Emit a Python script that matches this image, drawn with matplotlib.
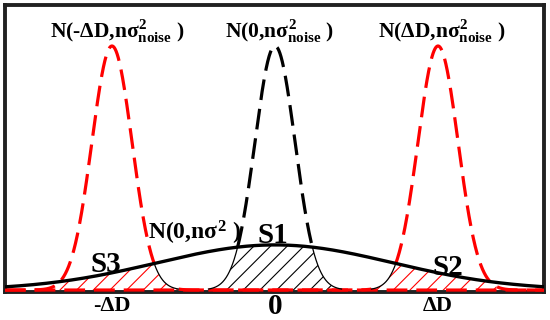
import numpy as np
import matplotlib
matplotlib.use("Agg")
import matplotlib.pyplot as plt
import matplotlib.transforms as mtransforms

# ---- data (in units of ΔD) ----
noise_centers = [-1.0, 0.0, 1.0]          # means of N(-ΔD,·), N(0,·), N(ΔD,·)
noise_colors = ["#ff0000", "#000000", "#ff0000"]
noise_sigma = 0.123
noise_peak = 1.0
wide_sigma = 0.72
wide_peak = 0.185

top_labels = [r"N(-ΔD,n$\sigma^{2}_{noise}$ )", r"N(0,n$\sigma^{2}_{noise}$ )",
              r"N(ΔD,n$\sigma^{2}_{noise}$ )"]
top_label_x = [-0.97, 0.03, 1.02]
wide_label = r"N(0,n$\sigma^{2}$ )"
area_labels = ["S3", "S1", "S2"]
area_label_x = [-1.04, -0.01, 1.06]
area_label_y = [0.074, 0.193, 0.061]
tick_pos = [-1.0, 0.0, 1.0]
tick_labels = ["-ΔD", "0", "ΔD"]
tick_sizes = [16, 21, 16]

plt.rcParams["font.family"] = "Liberation Serif"
plt.rcParams["font.weight"] = "bold"
plt.rcParams["mathtext.fontset"] = "custom"
plt.rcParams["mathtext.rm"] = "Liberation Serif:bold"
plt.rcParams["mathtext.it"] = "Liberation Serif:bold"
plt.rcParams["mathtext.bf"] = "Liberation Serif:bold"
plt.rcParams["hatch.linewidth"] = 0.8

fig = plt.figure(figsize=(5.5, 3.2), dpi=100)
ax = fig.add_axes([5 / 550, 1 - 292 / 320, 539 / 550, 287 / 320])

x = np.linspace(-1.66, 1.66, 3000)
w = wide_peak * np.exp(-x ** 2 / (2 * wide_sigma ** 2))

for c, col in zip(noise_centers, noise_colors):
    n = noise_peak * np.exp(-(x - c) ** 2 / (2 * noise_sigma ** 2))
    above = n >= w
    if c < 0:
        inner = x > c
    elif c > 0:
        inner = x < c
    else:
        inner = np.ones_like(x, dtype=bool)
    thin = (~above) & inner & (n > 0.004)
    if col == "#000000":
        dashed = above
    else:
        dashed = ~thin
    # hatched overlap area
    ax.fill_between(x, 0, np.minimum(w, n), facecolor="white", edgecolor=col,
                    hatch="//", linewidth=0, zorder=2)
    yd = np.where(dashed, n, np.nan)
    ln, = ax.plot(x, yd, color=col, lw=2.3, zorder=3, solid_capstyle="butt")
    ln.set_dashes((6.5, 2.8))
    yt = np.where(thin, n, np.nan)
    ax.plot(x, yt, color="black", lw=0.9, zorder=4)

ax.plot(x, w, color="black", lw=2.4, zorder=5)

ax.set_xlim(-1.656, 1.65)
ax.set_ylim(-0.008, 1.168)
ax.set_xticks([])
ax.set_yticks([])
for s in ax.spines.values():
    s.set_linewidth(2.8)
    s.set_color("#222222")

for lab, lx in zip(top_labels, top_label_x):
    ax.text(lx, 1.033, lab, ha="center", va="baseline", fontsize=15.5,
            fontweight="bold", zorder=6)
ax.text(-0.49, 0.205, wide_label, ha="center", va="baseline", fontsize=17,
        fontweight="bold", zorder=6)
for lab, lx, ly in zip(area_labels, area_label_x, area_label_y):
    ax.text(lx, ly, lab, ha="center", va="baseline", fontsize=21,
            fontweight="bold", zorder=6)

trans = mtransforms.blended_transform_factory(ax.transData, ax.transAxes)
for p, lab, fs in zip(tick_pos, tick_labels, tick_sizes):
    ax.text(p, -0.049, lab, transform=trans, ha="center", va="center",
            fontsize=fs, fontweight="bold", clip_on=False)

fig.savefig("out.png", dpi=100)
